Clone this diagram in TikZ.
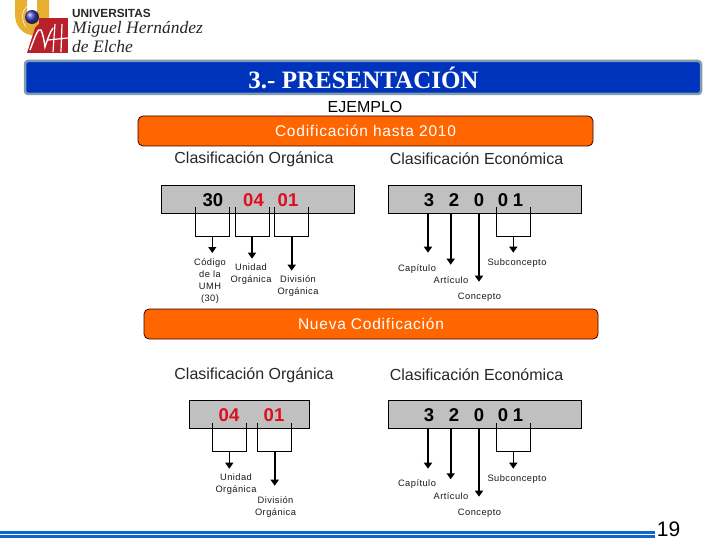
\documentclass[tikz,border=0pt]{standalone}
\usepackage{fontspec}
\setmainfont{Liberation Sans}
\newfontfamily\widef[LetterSpace=5]{Liberation Sans}
\newfontfamily\titlef{Liberation Serif}
\newfontfamily\logof{Liberation Serif}
\usetikzlibrary{arrows.meta,shadings}
\definecolor{barblue}{HTML}{0033BB}
\definecolor{baredge}{HTML}{7F9BB0}
\definecolor{barorange}{HTML}{FF6600}
\definecolor{boxgray}{HTML}{C0C0C0}
\definecolor{codered}{HTML}{DD0F1E}
\definecolor{linkblue}{HTML}{1166CC}
\definecolor{logored}{HTML}{B8202C}
\definecolor{logoyellow}{HTML}{E8B030}
\tikzset{
  x=1pt,y=-1pt,
  banner/.style={draw=black!80!red,line width=0.8pt,rounded corners=5pt,fill=barorange,minimum height=30pt,inner sep=0pt,text=white,font=\fontsize{15.5}{18}\selectfont\widef},
  codebox/.style={draw=black,line width=0.8pt,fill=boxgray,inner sep=0pt},
  heading/.style={inner sep=0pt,font=\fontsize{16}{18}\selectfont,text=black!85},
  code/.style={inner sep=0pt,font=\fontsize{18.5}{20}\selectfont\bfseries},
  tiny/.style={inner sep=0pt,align=center,font=\fontsize{9.3}{12}\selectfont\widef,text=black!90},
  bracket/.style={draw=black,line width=0.7pt},
  thinarrow/.style={draw=black,line width=1pt,-{Triangle[length=6pt,width=8pt]}},
  thickarrow/.style={draw=black,line width=1.6pt,-{Triangle[length=6pt,width=8pt]}},
}
\begin{document}
\begin{tikzpicture}
\useasboundingbox (0,0) rectangle (720,540);
% logo
\fill[logoyellow] (15,0) -- (15,14) .. controls (15,26) and (22,35) .. (36,36) -- (40,30) -- (49,18) -- (49,0) -- (37,0) -- (37,12) -- (27,12) -- (27,0) -- cycle;
\draw[white,line width=0.5pt] (30,5) .. controls (22,8) and (20,18) .. (26,27);
\fill[logored] (39,18) rectangle (68,53);
\fill[logored] (35,28) -- (39,24) -- (39,53) -- (27,53) -- cycle;
\draw[white,line width=1.4pt] (30,50) .. controls (36,34) and (38,28) .. (41,30) .. controls (43,34) and (44,40) .. (45,47) .. controls (48,38) and (50,32) .. (53,28);
\draw[white,line width=1.2pt] (55,24) -- (53,52) (62,24) -- (61,52) (48,40) -- (68,38);
\shade[ball color=blue!50!gray] (32,17) circle (7);
% logo text
\node[anchor=west,inner sep=0pt,font=\fontsize{11.8}{14}\selectfont\bfseries,text=black!85] (lu) at (72,13) {UNIVERSITAS};
\node[anchor=west,inner sep=0pt,font=\fontsize{17.5}{18}\selectfont\logof\itshape,text=black!85] (lm) at (72,29) {Miguel Hernández};
\node[anchor=west,inner sep=0pt,font=\fontsize{17.5}{18}\selectfont\logof\itshape,text=black!85] (ld) at (72,47) {de Elche};
% title bar
\node[draw=baredge,line width=2.5pt,fill=barblue,rounded corners=3pt,minimum width=676pt,minimum height=33pt,inner sep=0pt] (title) at (363,77.5) {};
\node[inner sep=0pt,text=white,font=\fontsize{25}{28}\selectfont\titlef\bfseries] (titletext) at (363.5,78) {3.- PRESENTACIÓN};
\node[inner sep=0pt,font=\fontsize{16}{16}\selectfont] (ej) at (365,107) {EJEMPLO};
\node[banner,minimum width=455pt] (b1) at (365.5,131) {Codificación hasta 2010};
\node[banner,minimum width=454pt] (b2) at (371,324) {Nueva Codificación};
% headings
\node[heading] (h1) at (254,159) {Clasificación Orgánica};
\node[heading] (h2) at (476.5,159) {Clasificación Económica};
\node[heading] (h3) at (254,375) {Clasificación Orgánica};
\node[heading] (h4) at (476.5,375) {Clasificación Económica};
% upper left box
\node[codebox,minimum width=192.5pt,minimum height=27.5pt] (ul) at (257.75,199.4) {};
\node[code] (ul1) at (213,200) {30};
\node[code,text=codered] (ul2) at (253.5,200) {04};
\node[code,text=codered] (ul3) at (288,200) {01};
% upper right box
\node[codebox,minimum width=193.5pt,minimum height=27.5pt] (ur) at (484.85,199.4) {};
\node[code] (ur1) at (429,200) {3};
\node[code] (ur2) at (454,200) {2};
\node[code] (ur3) at (479,200) {0};
\node[code] (ur4) at (503,200) {0};
\node[code] (ur5) at (518,200) {1};
% lower left box
\node[codebox,minimum width=120pt,minimum height=27.5pt] (ll) at (249.3,414.5) {};
\node[code,text=codered] (ll1) at (229,415) {04};
\node[code,text=codered] (ll2) at (274,415) {01};
% lower right box
\node[codebox,minimum width=193.5pt,minimum height=27.5pt] (lr) at (484.85,414.5) {};
\node[code] (lr1) at (429,415) {3};
\node[code] (lr2) at (454,415) {2};
\node[code] (lr3) at (479,415) {0};
\node[code] (lr4) at (503,415) {0};
\node[code] (lr5) at (518,415) {1};
% labels
\node[tiny] (a1) at (210,281.5) {Código\\de la\\UMH\\(30)};
\node[tiny] (a2) at (251,274) {Unidad\\Orgánica};
\node[tiny] (a3) at (298,286) {División\\Orgánica};
\node[tiny] (a4) at (417,269) {Capítulo};
\node[tiny] (a5) at (451,280) {Artículo};
\node[tiny] (a6) at (479.5,297) {Concepto};
\node[tiny] (a7) at (517,263) {Subconcepto};
\node[tiny] (c1) at (236,484.5) {Unidad\\Orgánica};
\node[tiny] (c2) at (275.5,507) {División\\Orgánica};
\node[tiny] (c4) at (417,484) {Capítulo};
\node[tiny] (c5) at (451,496) {Artículo};
\node[tiny] (c6) at (479.5,513) {Concepto};
\node[tiny] (c7) at (517,479) {Subconcepto};
% upper left connectors
\draw[bracket] (195.3,207) |- (229.3,236.3) -- (229.3,207);
\draw[bracket] (235.3,207) |- (269.3,236.3) -- (269.3,207);
\draw[bracket] (274.3,207) |- (308.3,236.3) -- (308.3,207);
\coordinate (t1) at (212.3,236.3); \coordinate (t2) at (252,236.3); \coordinate (t3) at (291.7,236.3);
\coordinate (e1) at (212.3,253); \coordinate (e2) at (252,258.7); \coordinate (e3) at (291.7,270.7);
\draw[thinarrow] (t1) -- (e1);
\draw[thickarrow] (t2) -- (e2);
\draw[thickarrow] (t3) -- (e3);
% upper right connectors
\coordinate (s1) at (428,213); \coordinate (s2) at (450.7,213); \coordinate (s3) at (479,213); \coordinate (s4) at (513.3,236.3);
\coordinate (f1) at (428,252.7); \coordinate (f2) at (450.7,264.7); \coordinate (f3) at (479,281.7); \coordinate (f4) at (513.3,252.7);
\draw[bracket] (496.3,207) |- (530.3,236.3) -- (530.3,207);
\draw[thickarrow] (s1) -- (f1);
\draw[thickarrow] (s2) -- (f2);
\draw[thickarrow] (s3) -- (f3);
\draw[thickarrow] (s4) -- (f4);
% lower left connectors
\draw[bracket] (212.3,423) |- (246.3,451.3) -- (246.3,423);
\draw[bracket] (257.3,423) |- (291.3,451.3) -- (291.3,423);
\coordinate (g1) at (229.3,451.3); \coordinate (g2) at (274.7,451.3);
\coordinate (j1) at (229.3,468.7); \coordinate (j2) at (274.7,485.7);
\draw[thinarrow] (g1) -- (j1);
\draw[thickarrow] (g2) -- (j2);
% lower right connectors
\coordinate (m1) at (428,428.3); \coordinate (m2) at (450.7,428.3); \coordinate (m3) at (479,428.3); \coordinate (m4) at (513.3,451.3);
\coordinate (n1) at (428,468.7); \coordinate (n2) at (450.7,479.3); \coordinate (n3) at (479,496.7); \coordinate (n4) at (513.3,468.7);
\draw[bracket] (496.3,423) |- (530.3,451.3) -- (530.3,423);
\draw[thickarrow] (m1) -- (n1);
\draw[thickarrow] (m2) -- (n2);
\draw[thickarrow] (m3) -- (n3);
\draw[thickarrow] (m4) -- (n4);
% footer
\fill[linkblue] (0,531) rectangle (655,534.4);
\fill[linkblue] (0,535.2) rectangle (655,538);
\node[inner sep=0pt,font=\fontsize{21}{22}\selectfont] (pg) at (668.5,529) {19};
\end{tikzpicture}
\end{document}
